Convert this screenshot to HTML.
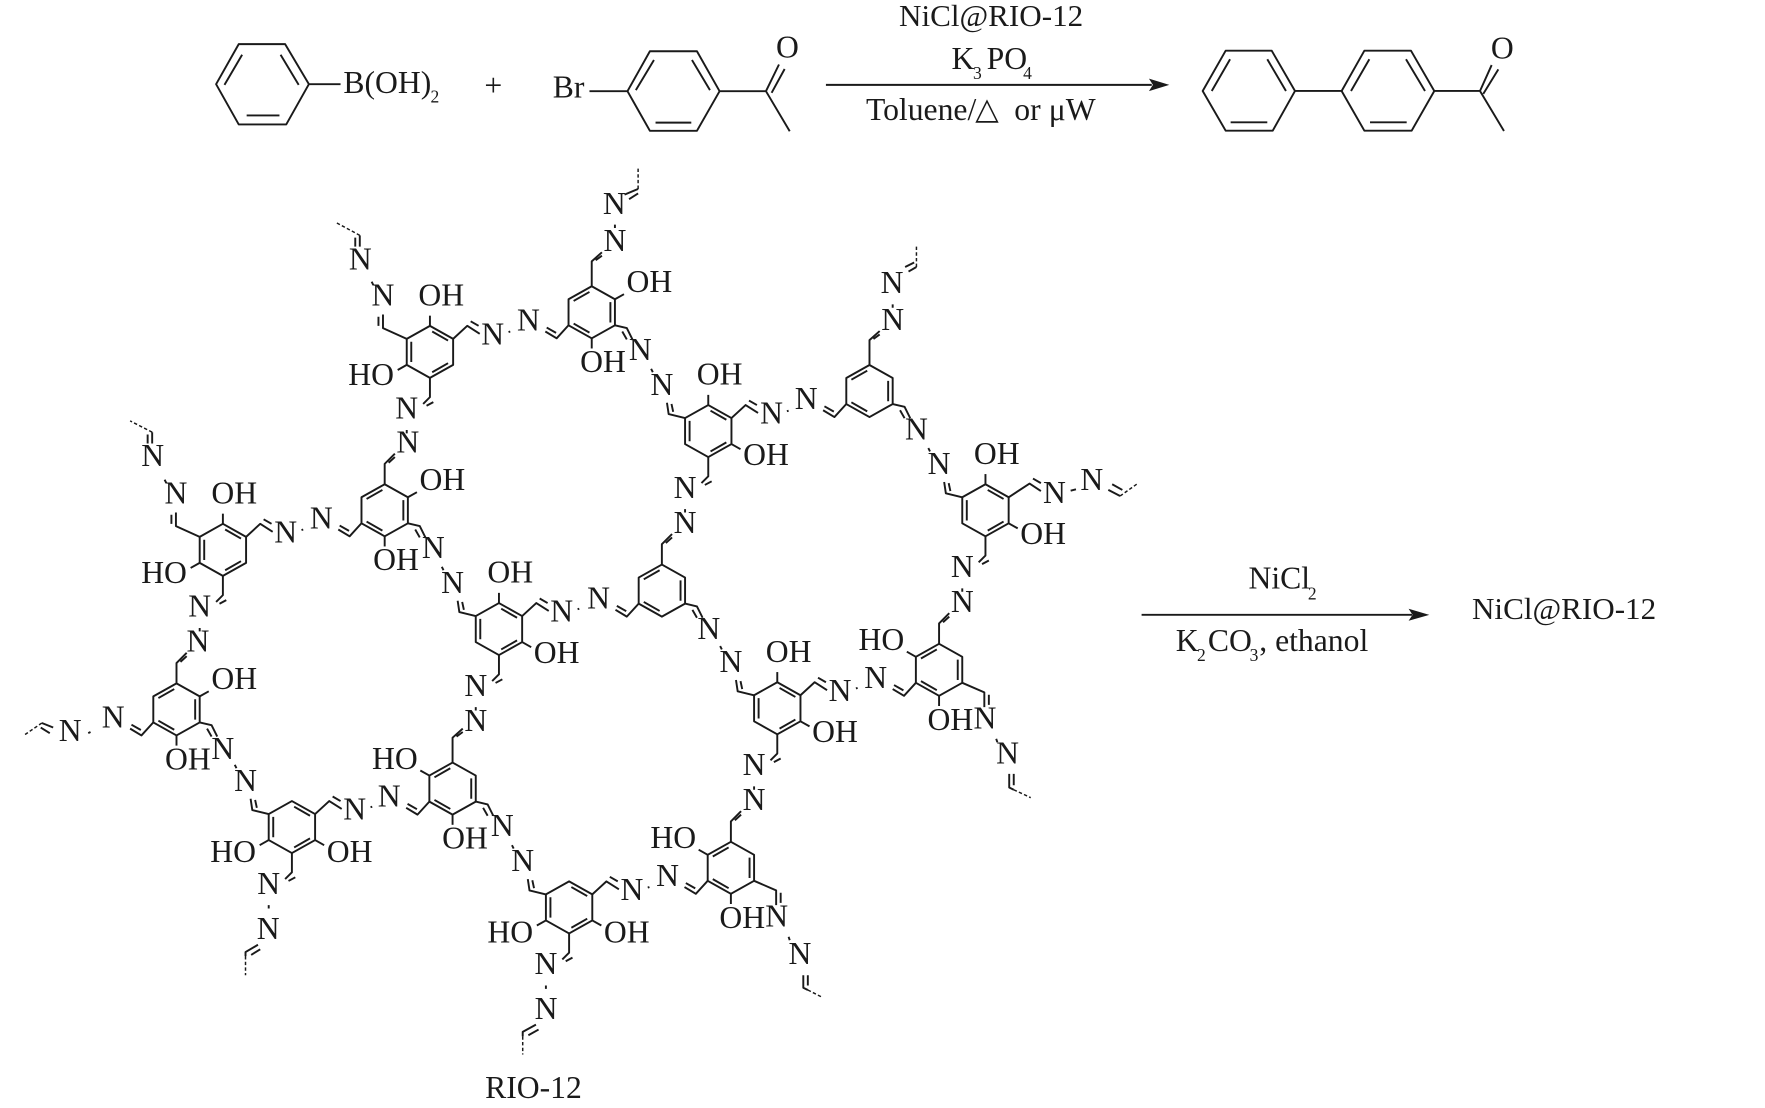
<!DOCTYPE html>
<html><head><meta charset="utf-8"><title>RIO-12</title>
<style>
html,body{margin:0;padding:0;background:#fff}
svg{display:block}
text{font-family:"Liberation Serif","Noto Serif CJK SC",serif;font-size:28px;fill:#1a1a1a;stroke:none}
.c{text-anchor:middle}
.s{font-size:15.5px}
.w{font-size:27.5px}
.b{fill:none;stroke:#1a1a1a;stroke-width:1.7;stroke-linejoin:round}
.d{fill:none;stroke:#1a1a1a;stroke-width:1.3;stroke-dasharray:3 2}
</style></head><body>
<svg width="1765" height="1108" viewBox="0 0 1560 979.3" preserveAspectRatio="none" xmlns="http://www.w3.org/2000/svg">
<defs>
<g id="A" class="b">
<path d="M0-23L20.5-11.5V11.5L0 23L-20.5 11.5V-11.5Z"/>
<path d="M2-18L16-10M16 10L2 18M-16.5 9V-9"/>
<path d="M0 23V40L-6 46M-3 47.6L3 44.4M-20.5 69V72"/>
</g>
<path id="UR" class="b" d="M20.5-11.5L33-23L44-16M36-27L43-23M69.5-17.5L71-18"/>
<path id="URb" class="b" d="M20.5-11.5L39-23.6L49-17M42-28L49-24M75.3-17.3L80-18.5"/>
<g id="B" class="b">
<path d="M0-23L20.5-11.5V11.5L0 23L-20.5 11.5V-11.5Z"/>
<path d="M-16-10L-2-18M16.5-9V9M-2 18L-16 10"/>
<path d="M-20.5 11.5L-31 23L-41 17M-39.8 13.5L-31.5 18.2"/>
</g>
<path id="ULs" class="b" d="M-20.5-11.5L-35-15L-36.5-25M-31-17L-32.5-24M-50.5-55L-49-52"/>
<path id="ULl" class="b" d="M-20.5-11.5L-41.5-21V-33M-45.5-23V-31M-51.5-62L-50-59"/>
<path id="Ts" class="b" d="M0-23V-41L9-50M3.5-42L9-47"/>
<path id="Tl" class="b" d="M0-23V-45L9-53M3.5-46L9-50"/>
<path id="LRs" class="b" d="M20.5 11.5L31 14L36 24M27 17L31 24"/>
<path id="LRt" class="b" d="M20.5 11.5L40 20V33M44 22V31"/>
<path id="sT" class="b" d="M0-23V-32"/>
<path id="sB" class="b" d="M0 23V32"/>
<path id="sLL" class="b" d="M-20.5 11.5L-28.5 16"/>
<path id="sLR" class="b" d="M20.5 11.5L28.5 16"/>
<path id="sUR" class="b" d="M20.5-11.5L28.5-16"/>
<path id="sUL" class="b" d="M-20.5-11.5L-28.5-16"/>
</defs>

<!-- top reaction -->
<g class="b">
<path d="M191 74.4L211 39H252L273 74.4L253 110H211ZM198.4 75L214 48.4M248 48.4L264 75M218 102H247M273 74.4H301"/>
<path d="M521 80.6H554.6L574.4 45.3H616L636 80.6L616 115.6H574.4L554.6 80.6M562 79.7L578 53M611.6 53L627.5 79.7M579.4 108.4H611M636 80.6H677L698 116M677 80.6L688.5 57M682 82L693.5 61"/>
<path d="M1063 80.4L1083.3 44.8H1124L1144.6 80.4L1124.9 115.5H1083.3ZM1071 80.4L1087.2 52.4M1120.1 52.4L1136.6 80.4M1087.7 108.1H1120.1M1144.6 80.4H1185.8L1205.9 44.8H1247.1L1267.7 80.4L1247.7 115.5H1205.9L1185.8 80.4M1194.1 80.4L1210.3 52.4M1242.7 52.4L1259.5 80.4M1210.9 108.1H1243.3M1267.7 80.4H1308.1L1329.3 115.8M1308.1 80.4L1318.4 57.5M1311 83L1324.3 61.3"/>
<path d="M730 75H1018M1009 543.4H1248"/>
</g>
<path fill="#1a1a1a" d="M1015.5 69.5L1033.5 75L1015.5 80.5L1019 75ZM1245 538L1263.3 543.4L1245 548.6L1248.5 543.4Z"/>
<text x="303.5" y="82">B(OH)</text><text class="s" x="380.5" y="90.6">2</text>
<text class="c" x="436" y="85">+</text>
<text x="488.6" y="86">Br</text>
<text class="c" x="696" y="51">O</text>
<text class="c" x="1327.8" y="51.5">O</text>
<text class="c w" x="876" y="23">NiCl@RIO-12</text>
<text x="841" y="61">K</text><text class="s" x="860" y="70">3</text><text x="872" y="61">PO</text><text class="s" x="904.3" y="70">4</text>
<text x="765.4" y="106">Toluene/</text><text x="862" y="105" style="font-size:27px;font-family:'DejaVu Sans',sans-serif">△</text><text x="896.5" y="106">or</text><text x="927" y="106">μW</text>
<text x="1103.5" y="520.3">NiCl</text><text class="s" x="1156" y="529.7">2</text>
<text x="1039.2" y="575.6">K</text><text class="s" x="1058" y="584.4">2</text><text x="1067.6" y="575.6">CO</text><text class="s" x="1104.5" y="584.4">3</text><text x="1113" y="575.6">, ethanol</text>
<text class="w" x="1301" y="547">NiCl@RIO-12</text>
<text class="c" x="471.5" y="970.3">RIO-12</text>

<!-- A type units -->
<g transform="translate(380,311)"><use href="#A"/><use href="#UR"/><use href="#ULl"/><use href="#sT"/><use href="#sLL"/>
<text class="c" x="-41.5" y="-41">N</text><text class="c" x="55.5" y="-6.5">N</text><text class="c" x="-20.5" y="59">N</text><text class="c" x="10" y="-41">OH</text><text class="c" x="-52" y="29.5">HO</text></g>
<g transform="translate(197,486)"><use href="#A"/><use href="#UR"/><use href="#ULl"/><use href="#sT"/><use href="#sLL"/>
<text class="c" x="-41.5" y="-41">N</text><text class="c" x="55.5" y="-6.5">N</text><text class="c" x="-20.5" y="59">N</text><text class="c" x="10" y="-41">OH</text><text class="c" x="-52" y="29.5">HO</text></g>
<g transform="translate(626,381)"><use href="#A"/><use href="#UR"/><use href="#ULs"/><use href="#sT"/><use href="#sLR"/>
<text class="c" x="-41" y="-32">N</text><text class="c" x="56" y="-6.5">N</text><text class="c" x="-20.5" y="59">N</text><text class="c" x="10" y="-41">OH</text><text class="c" x="51" y="30">OH</text></g>
<g transform="translate(871,451)"><use href="#A"/><use href="#URb"/><use href="#ULs"/><use href="#sT"/><use href="#sLR"/>
<text class="c" x="-41" y="-32">N</text><text class="c" x="61" y="-6.5">N</text><text class="c" x="-20.5" y="59">N</text><text class="c" x="10" y="-41">OH</text><text class="c" x="51" y="30">OH</text></g>
<g transform="translate(441,556)"><use href="#A"/><use href="#UR"/><use href="#ULs"/><use href="#sT"/><use href="#sLR"/>
<text class="c" x="-41" y="-32">N</text><text class="c" x="55.5" y="-6.5">N</text><text class="c" x="-20.5" y="59">N</text><text class="c" x="10" y="-41">OH</text><text class="c" x="51" y="30">OH</text></g>
<g transform="translate(687,626)"><use href="#A"/><use href="#UR"/><use href="#ULs"/><use href="#sT"/><use href="#sLR"/>
<text class="c" x="-41" y="-32">N</text><text class="c" x="55.5" y="-6.5">N</text><text class="c" x="-20.5" y="59">N</text><text class="c" x="10" y="-41">OH</text><text class="c" x="51" y="30">OH</text></g>
<g transform="translate(258,731)"><use href="#A"/><use href="#UR"/><use href="#ULs"/><use href="#sLL"/><use href="#sLR"/>
<text class="c" x="-41" y="-32">N</text><text class="c" x="55.5" y="-6.5">N</text><text class="c" x="-20.5" y="59">N</text><text class="c" x="-52" y="31">HO</text><text class="c" x="51" y="31">OH</text></g>
<g transform="translate(503,802)"><use href="#A"/><use href="#UR"/><use href="#ULs"/><use href="#sLL"/><use href="#sLR"/>
<text class="c" x="-41" y="-32">N</text><text class="c" x="55.5" y="-6.5">N</text><text class="c" x="-20.5" y="59">N</text><text class="c" x="-52" y="31">HO</text><text class="c" x="51" y="31">OH</text></g>

<!-- B type units -->
<g transform="translate(523,276)"><use href="#B"/><use href="#Tl"/><use href="#LRs"/><use href="#sUR"/><use href="#sB"/>
<text class="c" x="20.5" y="-54">N</text><text class="c" x="-56" y="16">N</text><text class="c" x="43" y="42">N</text><text class="c" x="51" y="-18">OH</text><text class="c" x="10" y="53">OH</text></g>
<g transform="translate(768.5,345.6)"><use href="#B"/><use href="#Tl"/><use href="#LRs"/>
<text class="c" x="20.5" y="-54">N</text><text class="c" x="-56" y="16">N</text><text class="c" x="41.5" y="43">N</text></g>
<g transform="translate(340,451)"><use href="#B"/><use href="#Ts"/><use href="#LRs"/><use href="#sUR"/><use href="#sB"/>
<text class="c" x="20.5" y="-51">N</text><text class="c" x="-56" y="16">N</text><text class="c" x="43" y="42">N</text><text class="c" x="51" y="-18">OH</text><text class="c" x="10" y="53">OH</text></g>
<g transform="translate(585,522)"><use href="#B"/><use href="#Ts"/><use href="#LRs"/>
<text class="c" x="20.5" y="-51">N</text><text class="c" x="-56" y="16">N</text><text class="c" x="41.5" y="43">N</text></g>
<g transform="translate(156,627)"><use href="#B"/><use href="#Ts"/><use href="#LRs"/><use href="#sUR"/><use href="#sB"/>
<text class="c" x="19" y="-51">N</text><text class="c" x="-56" y="16">N</text><text class="c" x="41" y="44">N</text><text class="c" x="51" y="-18">OH</text><text class="c" x="10" y="53">OH</text></g>
<g transform="translate(400,697)"><use href="#B"/><use href="#Tl"/><use href="#LRs"/><use href="#sUL"/><use href="#sB"/>
<text class="c" x="20.5" y="-51">N</text><text class="c" x="-56" y="16">N</text><text class="c" x="44" y="42">N</text><text class="c" x="-51" y="-17.5">HO</text><text class="c" x="11" y="53">OH</text></g>
<g transform="translate(646,767)"><use href="#B"/><use href="#Ts"/><use href="#LRt"/><use href="#sUL"/><use href="#sB"/>
<text class="c" x="20.5" y="-51">N</text><text class="c" x="-56" y="16">N</text><text class="c" x="40.5" y="52">N</text><text class="c" x="-51" y="-17.5">HO</text><text class="c" x="10" y="53">OH</text></g>
<g transform="translate(830,592)"><use href="#B"/><use href="#Ts"/><use href="#LRt"/><use href="#sUL"/><use href="#sB"/>
<text class="c" x="20.5" y="-51">N</text><text class="c" x="-56" y="16">N</text><text class="c" x="40.5" y="52">N</text><text class="c" x="-51" y="-17.5">HO</text><text class="c" x="10" y="53">OH</text></g>

<!-- terminal chains -->
<text class="c" x="318.5" y="238">N</text><text class="c" x="135" y="412">N</text>
<path class="b" d="M318 208V218M314 210V218M134.5 382V392M130.5 384V392"/>
<path class="d" d="M318 208L297.6 197M134.5 382L115 372"/>
<text class="c" x="543" y="189">N</text><text class="c" x="788.5" y="259">N</text>
<path class="b" d="M552 172L564 167M556 176L564 171M543.5 198.5V201.5M803 240L810 236M800 236L808 232M789 269V272"/>
<path class="d" d="M564 167V148M810 236V216"/>
<text class="c" x="965" y="433">N</text>
<path class="b" d="M979.6 433L990 438.4M983 428L992 433"/>
<path class="d" d="M990 438.4L1006 427"/>
<text class="c" x="62" y="655">N</text>
<path class="b" d="M47 643L37 639M44 648L36 643M78 648L80 647"/>
<path class="d" d="M37 639L21 650"/>
<text class="c" x="237" y="830">N</text><text class="c" x="482.6" y="900.6">N</text>
<path class="b" d="M228 835L217 841.5V845M230 839L222 844M473.7 905.6L462 912V916M476 910L467 915"/>
<path class="d" d="M217 845V862M462 916V932"/>
<text class="c" x="707" y="852">N</text><text class="c" x="890.6" y="674.6">N</text>
<path class="b" d="M697 828L698 831M710 862V873L714 875M714 862V871M880.5 653L881.5 656M892 684V696L896 698M896 684V694"/>
<path class="d" d="M714 875L727 881.6M896 698L911 705"/>
</svg>
</body></html>
